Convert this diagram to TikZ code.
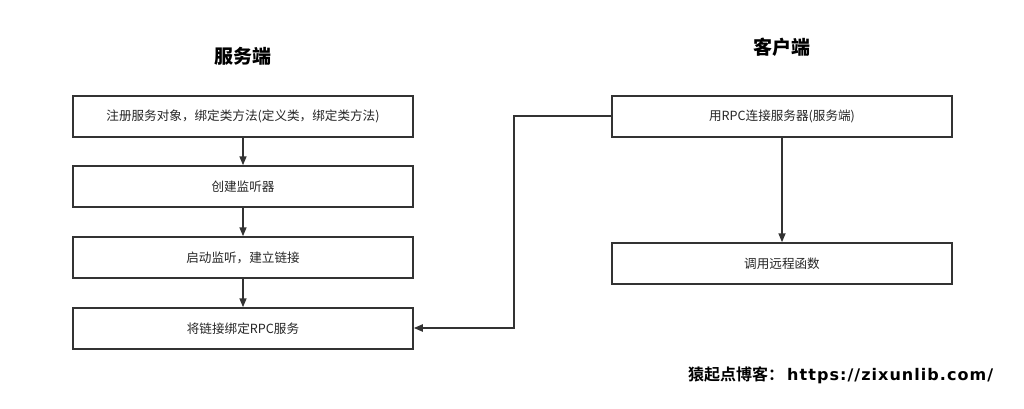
\documentclass[tikz,border=0pt]{standalone}
\usepackage{fontspec}
\setmainfont{Noto Sans CJK SC}
\newfontfamily\cjkbold{Noto Sans CJK SC Bold}
\newfontfamily\latbold[LetterSpace=6.5]{DejaVu Sans Bold}
\usetikzlibrary{arrows.meta}
\definecolor{ln}{HTML}{333333}
\begin{document}
\begin{tikzpicture}[x=1pt,y=-1pt,
  stepbox/.style={draw=ln,line width=1.5pt,minimum width=340pt,minimum height=41pt,inner sep=0pt,font=\fontsize{12.6}{14}\selectfont,text=black!85},
  ttl/.style={font=\fontsize{19}{21}\selectfont\bfseries,text=black},
  wire/.style={draw=ln,line width=1.6pt},
  conn/.style={wire,-{Triangle[length=9pt,width=7pt]}}]
\useasboundingbox[fill=white] (0,0) rectangle (1024,409);
\node[ttl] (t1) at (243,56) {服务端};
\node[ttl] (t2) at (782,47) {客户端};
\node[stepbox] (a) at (243,116.5) {注册服务对象，绑定类方法(定义类，绑定类方法)};
\node[stepbox] (b) at (243,186.5) {创建监听器};
\node[stepbox] (c) at (243,257.5) {启动监听，建立链接};
\node[stepbox] (d) at (243,328.5) {将链接绑定RPC服务};
\node[stepbox] (e) at (782,116.5) {用RPC连接服务器(服务端)};
\node[stepbox] (f) at (782,263.5) {调用远程函数};
\draw[conn] (a) -- (b);
\draw[conn] (b) -- (c);
\draw[conn] (c) -- (d);
\draw[conn] (e) -- (f);
\coordinate (k1) at (513.6,116);
\coordinate (k2) at (513.6,328);
\draw[conn,line width=1.9pt] (e.west |- k1) -- (k1) -- (k2) -- (d.east |- k2);
\node[font=\fontsize{16}{18}\selectfont\cjkbold,anchor=west,inner sep=0pt] (w) at (688,375) {猿起点博客：\hspace{3pt}{\latbold https://zixunlib.com/}};
\end{tikzpicture}
\end{document}
